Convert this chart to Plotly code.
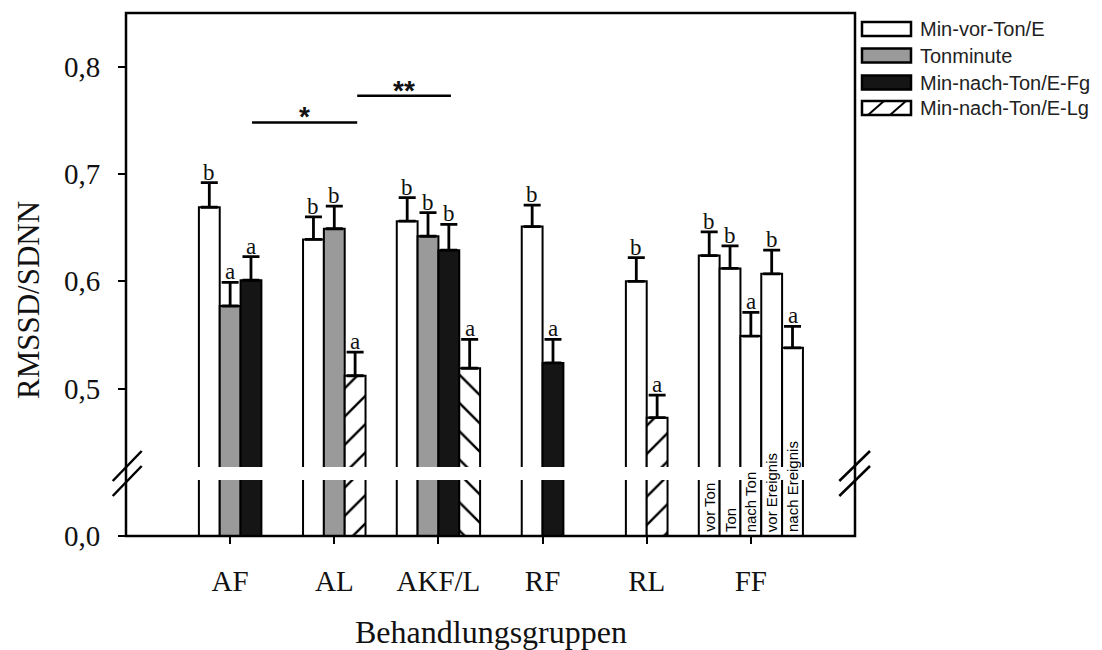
import plotly.graph_objects as go

# ---------------- data ----------------
groups = ["AF", "AL", "AKF/L", "RF", "RL", "FF"]

series_names = ["Min-vor-Ton/E", "Tonminute", "Min-nach-Ton/E-Fg", "Min-nach-Ton/E-Lg"]

vor_vals = [0.669, 0.639, 0.656, 0.651, 0.600, None]
vor_err = [0.023, 0.021, 0.022, 0.020, 0.022, None]
vor_let = ["b", "b", "b", "b", "b", None]

ton_vals = [0.577, 0.649, 0.642, None, None, None]
ton_err = [0.022, 0.021, 0.022, None, None, None]
ton_let = ["a", "b", "b", None, None, None]

fg_vals = [0.601, None, 0.629, 0.524, None, None]
fg_err = [0.022, None, 0.024, 0.022, None, None]
fg_let = ["a", None, "b", "a", None, None]

lg_vals = [None, 0.512, 0.519, None, 0.473, None]
lg_err = [None, 0.022, 0.027, None, 0.021, None]
lg_let = [None, "a", "a", None, "a", None]
lg_hatch = [None, "/", "\\", None, "/", None]

ff_labels = ["vor Ton", "Ton", "nach Ton", "vor Ereignis", "nach Ereignis"]
ff_vals = [0.624, 0.612, 0.549, 0.607, 0.538]
ff_err = [0.022, 0.021, 0.022, 0.022, 0.020]
ff_let = ["b", "b", "a", "b", "a"]

upper_ticks = [0.5, 0.6, 0.7, 0.8]
upper_ticktext = ["0,5", "0,6", "0,7", "0,8"]
lower_ticks = [0.0]
lower_ticktext = ["0,0"]

sig_brackets = [(0.21, 1.22, 0.748, "*"), (1.22, 2.12, 0.773, "**")]

# ---------------- styling ----------------
W, H = 1102, 650
ML, MR, MT, MB = 126, 247, 13, 114
PW, PH = W - ML - MR, H - MT - MB
BAR_W = 0.2
SERIF = "Liberation Serif, Times New Roman, serif"
SANS = "Liberation Sans, Arial, sans-serif"

fills = {"Min-vor-Ton/E": "white", "Tonminute": "#9a9a9a",
         "Min-nach-Ton/E-Fg": "#151515", "Min-nach-Ton/E-Lg": "white"}


def px_x(px):
    return (px - ML) / PW


def px_y(py):
    return (H - MB - py) / PH


# upper / lower segments of the broken axis
UP_DOMAIN = [px_y(467), 1.0]
LO_DOMAIN = [0.0, px_y(480)]
UP_RANGE = [0.427, 0.85]
LO_RANGE = [0.0, 0.052]

series_data = [
    ("Min-vor-Ton/E", vor_vals, vor_err, vor_let),
    ("Tonminute", ton_vals, ton_err, ton_let),
    ("Min-nach-Ton/E-Fg", fg_vals, fg_err, fg_let),
    ("Min-nach-Ton/E-Lg", lg_vals, lg_err, lg_let),
]
counts = []
for gi, g in enumerate(groups):
    n = sum(1 for _, v, _, _ in series_data if v[gi] is not None)
    if g == "FF":
        n += len(ff_vals)
    counts.append(n)

slot_used = [0] * len(groups)

fig = go.Figure()
annotations = []


def add_bars(name, xs, ys, errs, lets, offs, fill, pattern=None):
    marker = dict(color=fill, line=dict(color="black", width=2))
    if pattern is not None:
        marker["pattern"] = dict(shape=pattern, fgcolor="#000000", bgcolor="white",
                                 fgopacity=1, size=20, solidity=0.12)
    common = dict(x=xs, y=ys, offset=offs, width=[BAR_W] * len(xs), name=name,
                  showlegend=False, marker=marker, hoverinfo="skip")
    fig.add_trace(go.Bar(**common, xaxis="x", yaxis="y"))
    fig.add_trace(go.Bar(**common, xaxis="x", yaxis="y2",
                         error_y=dict(type="data", symmetric=False, array=errs,
                                      arrayminus=[0] * len(xs), color="black",
                                      thickness=2.8, width=8.5)))
    for x, y, e, l, o in zip(xs, ys, errs, lets, offs):
        gi = groups.index(x)
        annotations.append(dict(x=gi + o + BAR_W / 2, y=y + e, xref="x", yref="y2",
                                text=l, showarrow=False, yanchor="bottom",
                                font=dict(family=SERIF, size=23, color="#111"),
                                yshift=-4))


for name, vals, errs, lets in series_data:
    xs, ys, es, ls, offs, pats = [], [], [], [], [], []
    for gi, g in enumerate(groups):
        if vals[gi] is None:
            continue
        k = slot_used[gi]
        slot_used[gi] += 1
        offs.append(-counts[gi] * BAR_W / 2 + k * BAR_W)
        xs.append(g)
        ys.append(vals[gi])
        es.append(errs[gi])
        ls.append(lets[gi])
        if name == "Min-nach-Ton/E-Lg":
            pats.append(lg_hatch[gi])
    add_bars(name, xs, ys, es, ls, offs, fills[name],
             pats if name == "Min-nach-Ton/E-Lg" else None)

# FF group: five separate white bars
gi_ff = groups.index("FF")
ff_offs = []
for i in range(len(ff_vals)):
    k = slot_used[gi_ff]
    slot_used[gi_ff] += 1
    ff_offs.append(-counts[gi_ff] * BAR_W / 2 + k * BAR_W)
add_bars("FF", ["FF"] * len(ff_vals), ff_vals, ff_err, ff_let, ff_offs, "white")
for lab, o in zip(ff_labels, ff_offs):
    annotations.append(dict(x=gi_ff + o + BAR_W / 2, y=0, xref="x", yref="y",
                            text=lab, showarrow=False, textangle=-90,
                            yanchor="bottom", xanchor="center", yshift=2,
                            font=dict(family=SANS, size=15, color="black")))

shapes = []
# significance brackets
for x0, x1, y, lab in sig_brackets:
    shapes.append(dict(type="line", xref="x", yref="y2", x0=x0, x1=x1, y0=y, y1=y,
                       line=dict(color="black", width=2.5)))
    annotations.append(dict(x=(x0 + x1) / 2, y=y, xref="x", yref="y2", text="<b>" + lab + "</b>",
                            showarrow=False, yanchor="bottom", yshift=-12,
                            font=dict(family=SANS, size=28, color="#111")))

# frame
shapes.append(dict(type="rect", xref="paper", yref="paper", x0=0, x1=1, y0=0, y1=1,
                   line=dict(color="black", width=2.5), layer="above"))
# axis break marks
for xa, xb in [(112.7, 141.7), (839.3, 870.0)]:
    for ya, yb in [(481, 451), (496, 466)]:
        shapes.append(dict(type="line", xref="paper", yref="paper",
                           x0=px_x(xa), y0=px_y(ya), x1=px_x(xb), y1=px_y(yb),
                           line=dict(color="black", width=2.5)))

# manual legend
leg_rows = [29, 55.5, 82.5, 108]
for name, yc in zip(series_names, leg_rows):
    shapes.append(dict(type="rect", xref="paper", yref="paper",
                       x0=px_x(862), x1=px_x(911), y0=px_y(yc - 7), y1=px_y(yc + 7),
                       fillcolor=fills[name], line=dict(color="black", width=2.5)))
    annotations.append(dict(x=px_x(918), y=px_y(yc), xref="paper", yref="paper",
                            text=name, showarrow=False, xanchor="left", yanchor="middle",
                            font=dict(family=SANS, size=20, color="#222")))
yc = leg_rows[3]
for xa in [868, 890]:
    shapes.append(dict(type="line", xref="paper", yref="paper",
                       x0=px_x(xa), y0=px_y(yc + 7), x1=px_x(xa + 16), y1=px_y(yc - 7),
                       line=dict(color="black", width=2)))

# axis titles
annotations.append(dict(x=px_x(28), y=px_y(300), xref="paper", yref="paper",
                        text="RMSSD/SDNN", showarrow=False, textangle=-90,
                        xanchor="center", yanchor="middle",
                        font=dict(family=SERIF, size=31, color="#111")))
annotations.append(dict(x=0.5, y=px_y(632), xref="paper", yref="paper",
                        text="Behandlungsgruppen", showarrow=False,
                        xanchor="center", yanchor="middle",
                        font=dict(family=SERIF, size=32, color="#111")))

tickfont = dict(family=SERIF, size=29, color="#111")
fig.update_layout(
    width=W, height=H, autosize=False,
    margin=dict(l=ML, r=MR, t=MT, b=MB, pad=0),
    paper_bgcolor="white", plot_bgcolor="white",
    barmode="overlay",
    showlegend=False,
    xaxis=dict(type="category", categoryorder="array", categoryarray=groups,
               range=[-1, 6], anchor="y", showgrid=False, zeroline=False,
               showline=False, ticks="outside", ticklen=7, tickwidth=1.5,
               tickcolor="black", ticklabelstandoff=12, tickfont=tickfont),
    yaxis=dict(domain=LO_DOMAIN, range=LO_RANGE, tickvals=lower_ticks,
               ticktext=lower_ticktext, showgrid=False, zeroline=False,
               showline=False, ticks="outside", ticklen=7, tickwidth=1.5,
               tickcolor="black", ticklabelstandoff=12, tickfont=tickfont),
    yaxis2=dict(domain=UP_DOMAIN, range=UP_RANGE, tickvals=upper_ticks,
                ticktext=upper_ticktext, anchor="x", showgrid=False,
                zeroline=False, showline=False, ticks="outside", ticklen=7,
                tickwidth=1.5, tickcolor="black", ticklabelstandoff=12,
                tickfont=tickfont),
    shapes=shapes,
    annotations=annotations,
)

fig.write_html("out.html", config={"displayModeBar": False},
               post_script="document.body.style.margin='0';document.body.style.overflow='hidden';")
